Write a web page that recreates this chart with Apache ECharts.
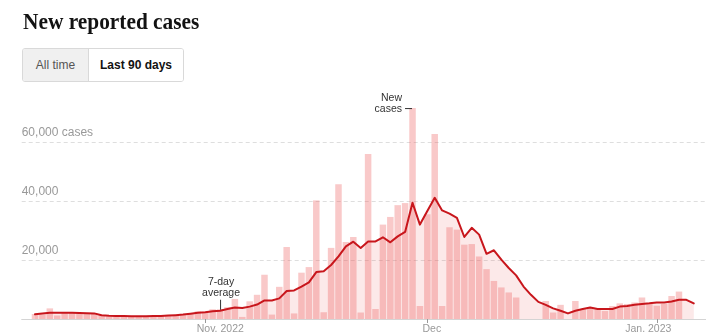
<!DOCTYPE html>
<html><head><meta charset="utf-8">
<script src="https://cdn.jsdelivr.net/npm/echarts@6/dist/echarts.min.js"></script>
<style>
html,body{margin:0;padding:0;background:#fff;}
#wrap{position:relative;width:706px;height:332px;overflow:hidden;}
#chart{position:absolute;left:0;top:0;width:706px;height:332px;}
#title{position:absolute;left:22.5px;top:9.2px;font:bold 24px/24px "Liberation Serif",serif;color:#121212;transform:scaleX(0.89);transform-origin:0 0;white-space:nowrap;}
#btns{position:absolute;left:22px;top:48px;width:160px;height:32px;border:1px solid #d9d9d9;border-radius:3px;display:flex;overflow:hidden;font-family:"Liberation Sans",Arial,sans-serif;font-size:12px;}
#btns div{display:flex;align-items:center;justify-content:center;}
#btns .b1{width:65px;background:#f0f0f0;color:#555;border-right:1px solid #d9d9d9;}
#btns .b2{flex:1;background:#fff;color:#121212;font-weight:bold;}
</style></head>
<body>
<div id="wrap">
  <div id="chart"></div>
  <div id="title">New reported cases</div>
  <div id="btns"><div class="b1">All time</div><div class="b2">Last 90 days</div></div>
</div>
<script>
// ---- data (day index 0 = Oct. 9, 2022) ----
const firstDay = '2022-10-09';
const newCases = [
  1700, 1500, 3600, 1200, 2300, 2200, 2000, 1700, 1900, 1400,
  800, 1200, 1100, 1000, 900, 1000, 800, 1200, 1100, 1300,
  1500, 2000, 2600, 2500, 3300, 3300, 4000, 6800, 700, 6000,
  8200, 15000, 1500, 10900, 24400, 1900, 15700, 17600, 40200, 2300,
  24100, 45700, 26100, 27800, 2200, 55900, 3400, 32000, 34600, 38600,
  39300, 71500, 4400, 35500, 62700, 4400, 31100, 30300, 25200, 25400,
  21200, 16900, 12900, 10700, 9000, 7300, null, null, null, 6100,
  2200, 4800, null, 6100, 3300, 3900, 3300, 2700, 4400, 5300,
  5100, 5600, 7300, 5100, 4500, 5100, 7800, 9300, null, null
];
const avg7 = [
  1600, 1900, 2100, 2150, 2150, 2100, 2000, 1950, 1900, 1300,
  1100, 1000, 1000, 950, 950, 950, 1000, 1050, 1150, 1300,
  1500, 1800, 2100, 2300, 2600, 2800, 3400, 3900, 3700, 4200,
  4900, 6300, 6300, 7000, 9500, 9700, 11000, 12400, 15900, 16200,
  18300, 21200, 24600, 26200, 24100, 26300, 26300, 27700, 26000, 28000,
  29500, 39400, 32000, 36600, 41100, 36800, 35700, 34300, 27800, 30900,
  28600, 22100, 23300, 20100, 17300, 14800, 11000, 8200, 5800, 4800,
  3600, 2800, 1900, 2800, 3400, 3900, 3400, 3400, 3400, 4200,
  4400, 4800, 5100, 5300, 5600, 5600, 5900, 6500, 6500, 5300
];
const tickDays = [23, 53, 84];
const tickLabels = ['Nov. 2022', 'Dec', 'Jan. 2023'];
const yTicks = [20000, 40000, 60000];
const yTickLabels = ['20,000', '40,000', '60,000 cases'];
const avgNoteDay = 25;
const newNoteDay = 51;

// ---- chart ----
const FONT = '"Liberation Sans", Arial, sans-serif';
const chart = echarts.init(document.getElementById('chart'), null, {renderer: 'canvas'});
const barData = [];
newCases.forEach((v, i) => { if (v != null) barData.push([i, v]); });
const lineData = avg7.map((v, i) => [i, v]);

const xRich = {
  l0: {padding: [0, 0, 0, 30], fontSize: 10.5, color: '#999', fontFamily: FONT, lineHeight: 12},
  l1: {padding: [0, 0, 0, 9], fontSize: 10.5, color: '#999', fontFamily: FONT, lineHeight: 12},
  l2: {padding: [0, 17, 0, 0], fontSize: 10.5, color: '#999', fontFamily: FONT, lineHeight: 12}
};

chart.setOption({
  animation: false,
  grid: {left: 21.7, right: 0, top: 83, bottom: 13, containLabel: false, outerBoundsMode: 'none'},
  xAxis: {
    type: 'value', min: -1.8, max: 90.65,
    axisLine: {show: true, onZero: true, lineStyle: {color: '#d4d4d4', width: 1}},
    axisTick: {show: true, customValues: tickDays, length: 4, lineStyle: {color: '#999'}},
    axisLabel: {
      show: true, customValues: tickDays, margin: 4.5,
      fontSize: 10.5, color: '#999', fontFamily: FONT, lineHeight: 12,
      formatter: v => { const k = tickDays.indexOf(v); return k < 0 ? '' : '{l' + k + '|' + tickLabels[k] + '}'; },
      rich: xRich
    },
    splitLine: {show: false}
  },
  yAxis: {
    type: 'value', min: 0, max: 80000, interval: 20000,
    axisLine: {show: false}, axisTick: {show: false},
    splitLine: {show: true, showMinLine: false, showMaxLine: false, lineStyle: {color: '#dedede', width: 1, type: [4, 3]}},
    axisLabel: {
      inside: true, margin: 0, verticalAlign: 'bottom', padding: [0, 0, 3, 0],
      fontSize: 12, lineHeight: 12, color: '#999', fontFamily: FONT,
      formatter: v => { const k = yTicks.indexOf(v); return k < 0 ? '' : yTickLabels[k]; }
    }
  },
  series: [
    {type: 'bar', data: barData, barWidth: 6.5, itemStyle: {color: 'rgba(238,90,90,0.33)'}, z: 1, silent: true},
    {type: 'line', data: lineData, symbol: 'none', smooth: false,
     lineStyle: {color: '#c8161c', width: 2, join: 'round', cap: 'round'},
     areaStyle: {color: 'rgba(232,100,100,0.2)', origin: 'start'}, z: 3, silent: true}
  ]
});

const pA = chart.convertToPixel({gridIndex: 0}, [avgNoteDay, avg7[avgNoteDay]]);
const pN = chart.convertToPixel({gridIndex: 0}, [newNoteDay, newCases[newNoteDay]]);
chart.setOption({
  graphic: [
    {type: 'line', z: 10, shape: {x1: pA[0] + 0.5, y1: pA[1] - 1, x2: pA[0] + 0.5, y2: pA[1] - 11}, style: {stroke: '#333', lineWidth: 1}},
    {type: 'text', z: 10, x: pA[0] + 1, y: pA[1] - 12.5,
     style: {text: '7-day\naverage', align: 'center', verticalAlign: 'bottom', fontSize: 10.5, lineHeight: 10.5, fontFamily: FONT, fill: '#333'}},
    {type: 'line', z: 10, shape: {x1: pN[0] - 7.5, y1: pN[1] + 0.5, x2: pN[0] - 0.5, y2: pN[1] + 0.5}, style: {stroke: '#333', lineWidth: 1}},
    {type: 'text', z: 10, x: pN[0] - 10.5, y: pN[1] + 5.9,
     style: {text: 'New\ncases', align: 'right', verticalAlign: 'bottom', fontSize: 10.5, lineHeight: 10.5, fontFamily: FONT, fill: '#333'}}
  ]
});
</script>
</body></html>
